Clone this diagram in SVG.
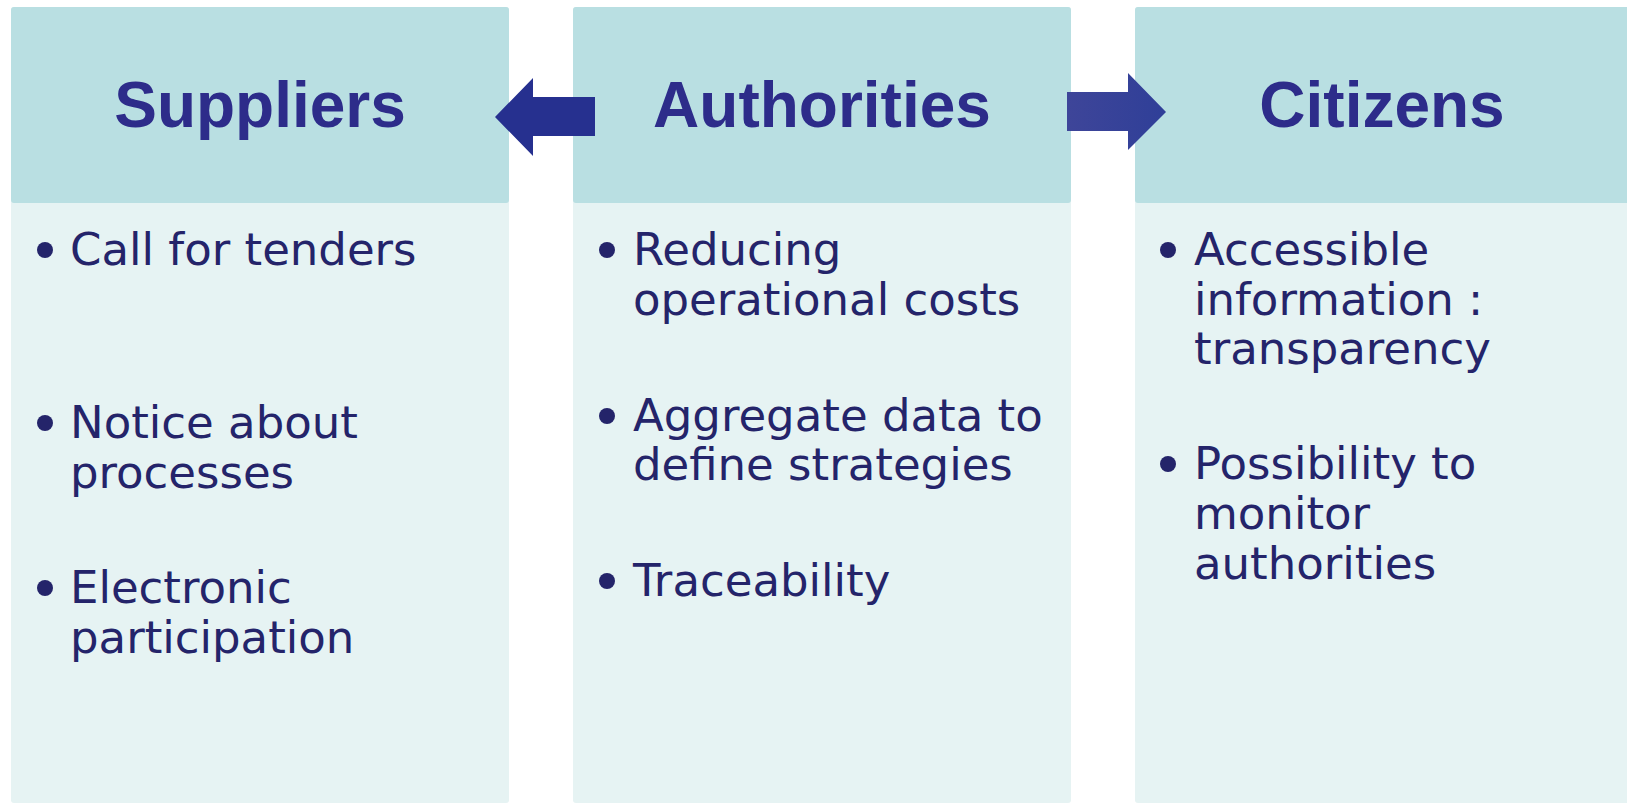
<svg xmlns="http://www.w3.org/2000/svg" width="1627" height="803" viewBox="0 0 1627 803">
<defs>
<style>
.hdr{fill:#B9DFE2}
.bdy{fill:#E6F3F3}
.ttl{font-family:"Liberation Sans",Arial,sans-serif;font-weight:bold;font-size:64px;fill:#2D2C8A;text-anchor:middle}
.txt{font-family:"DejaVu Sans",Verdana,sans-serif;font-size:45px;fill:#24246A}
.bul{fill:#24246A}
</style>
<linearGradient id="gR" x1="0" y1="0" x2="1" y2="0">
<stop offset="0" stop-color="#3E4599"/>
<stop offset="1" stop-color="#2F3F98"/>
</linearGradient>
</defs>
<rect width="1627" height="803" fill="#FFFFFF"/>
<g id="suppliers">
<rect class="bdy" x="11" y="7" width="498" height="796" rx="3"/>
<rect class="hdr" x="11" y="7" width="498" height="196" rx="3"/>
<text class="ttl" x="260" y="127">Suppliers</text>
<circle class="bul" cx="45" cy="250" r="8"/>
<text class="txt" x="70" y="265">Call for tenders</text>
<circle class="bul" cx="45" cy="423" r="8"/>
<text class="txt" x="70" y="438">Notice about</text>
<text class="txt" x="70" y="488">processes</text>
<circle class="bul" cx="45" cy="588" r="8"/>
<text class="txt" x="70" y="603">Electronic</text>
<text class="txt" x="70" y="653">participation</text>
</g>
<g id="authorities">
<rect class="bdy" x="573" y="7" width="498" height="796" rx="3"/>
<rect class="hdr" x="573" y="7" width="498" height="196" rx="3"/>
<text class="ttl" x="822" y="127">Authorities</text>
<circle class="bul" cx="607" cy="250" r="8"/>
<text class="txt" x="633" y="265">Reducing</text>
<text class="txt" x="633" y="315">operational costs</text>
<circle class="bul" cx="607" cy="416" r="8"/>
<text class="txt" x="633" y="431">Aggregate data to</text>
<text class="txt" x="633" y="480">define strategies</text>
<circle class="bul" cx="607" cy="581" r="8"/>
<text class="txt" x="633" y="596">Traceability</text>
</g>
<g id="citizens">
<rect class="bdy" x="1135" y="7" width="500" height="796" rx="3"/>
<rect class="hdr" x="1135" y="7" width="500" height="196" rx="3"/>
<text class="ttl" x="1382" y="127">Citizens</text>
<circle class="bul" cx="1168" cy="250" r="8"/>
<text class="txt" x="1194" y="265">Accessible</text>
<text class="txt" x="1194" y="315">information :</text>
<text class="txt" x="1194" y="364">transparency</text>
<circle class="bul" cx="1168" cy="464" r="8"/>
<text class="txt" x="1194" y="479">Possibility to</text>
<text class="txt" x="1194" y="529">monitor</text>
<text class="txt" x="1194" y="579">authorities</text>
</g>
<g id="connectors">
<polygon fill="#26308F" points="495,117 533,78 533,97 595,97 595,136 533,136 533,156"/>
<polygon fill="url(#gR)" points="1067,92 1128,92 1128,73 1166,112 1128,150 1128,131 1067,131"/>
</g>
</svg>
